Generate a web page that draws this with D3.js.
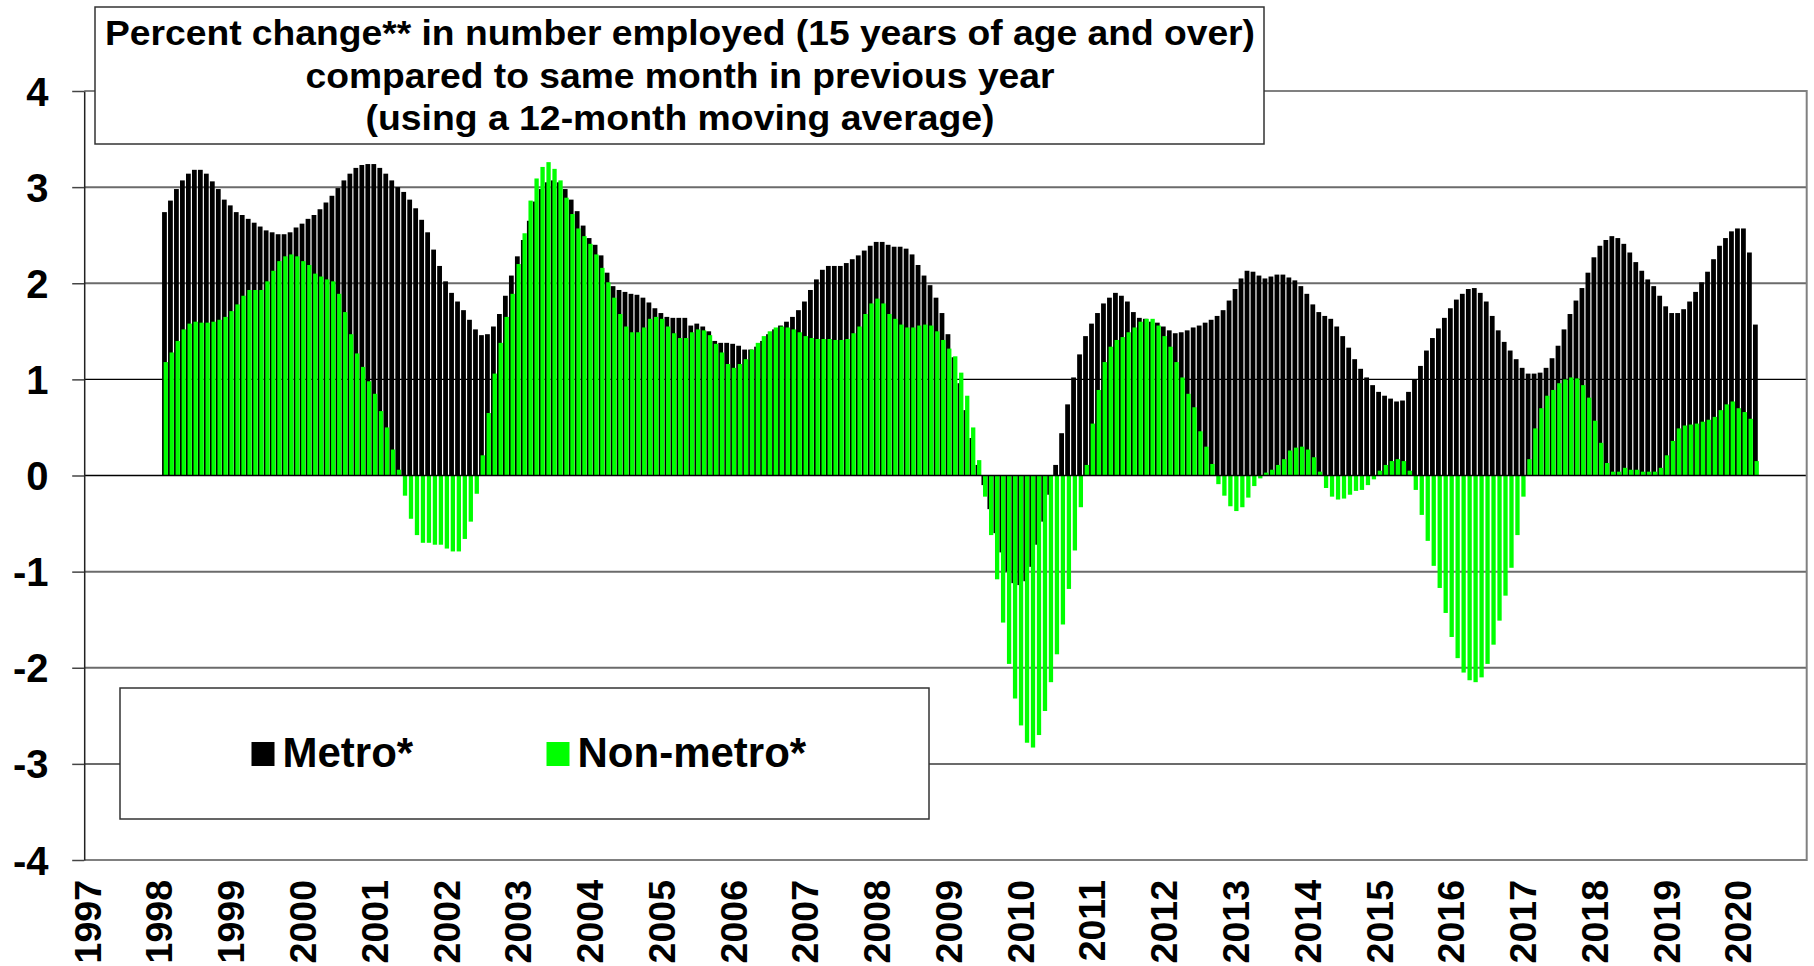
<!DOCTYPE html>
<html>
<head>
<meta charset="utf-8">
<title>Percent change in number employed</title>
<style>
  body, html { margin: 0; padding: 0; background: #fff; }
  #svg { display: block; font-family: "Liberation Sans", Arial, sans-serif; font-weight: bold; }
</style>
</head>
<body>
<svg id="svg" width="1814" height="966"></svg>
<script src="https://cdn.jsdelivr.net/npm/d3@7"></script>
<script>
// category axis: one slot per month, Jan 1997 .. Dec 2020
const years = d3.range(1997, 2021)
const firstMonth = "1998-2"   // series run Feb 1998 .. Apr 2020

// metro employment, % change (one row per year)
const metro = [
  2.74, 2.86, 2.98, 3.07, 3.14, 3.18, 3.18, 3.14, 3.06, 2.98, 2.87,
  2.81, 2.74, 2.71, 2.67, 2.63, 2.59, 2.55, 2.53, 2.51, 2.51, 2.53, 2.58,
  2.62, 2.67, 2.71, 2.77, 2.84, 2.91, 2.99, 3.07, 3.14, 3.20, 3.23, 3.24,
  3.24, 3.20, 3.14, 3.07, 3.00, 2.95, 2.87, 2.78, 2.66, 2.53, 2.35, 2.18,
  2.02, 1.90, 1.81, 1.72, 1.62, 1.52, 1.46, 1.47, 1.55, 1.68, 1.87, 2.08,
  2.28, 2.45, 2.65, 2.85, 2.98, 3.05, 3.07, 3.05, 2.98, 2.87, 2.75, 2.60,
  2.47, 2.40, 2.29, 2.11, 1.97, 1.93, 1.91, 1.89, 1.88, 1.85, 1.80, 1.74,
  1.69, 1.65, 1.64, 1.64, 1.64, 1.56, 1.58, 1.55, 1.50, 1.40, 1.38, 1.38,
  1.37, 1.35, 1.31, 1.31, 1.34, 1.40, 1.47, 1.52, 1.56, 1.60, 1.65, 1.72,
  1.81, 1.93, 2.04, 2.14, 2.18, 2.18, 2.18, 2.21, 2.25, 2.29, 2.34, 2.39,
  2.43, 2.43, 2.40, 2.38, 2.38, 2.36, 2.30, 2.19, 2.08, 1.98, 1.85, 1.69,
  1.47, 1.23, 0.96, 0.68, 0.39, 0.11, -0.10, -0.35, -0.60, -0.80, -1.00, -1.12,
  -1.14, -1.10, -0.95, -0.72, -0.48, -0.20, 0.11, 0.44, 0.74, 1.02, 1.26, 1.45,
  1.58, 1.69, 1.79, 1.85, 1.90, 1.87, 1.81, 1.70, 1.64, 1.63, 1.60, 1.59,
  1.55, 1.51, 1.48, 1.49, 1.51, 1.54, 1.56, 1.59, 1.62, 1.66, 1.72, 1.82,
  1.94, 2.05, 2.13, 2.12, 2.08, 2.05, 2.07, 2.09, 2.09, 2.06, 2.03, 1.97,
  1.89, 1.78, 1.70, 1.66, 1.63, 1.55, 1.45, 1.33, 1.21, 1.11, 1.02, 0.94,
  0.87, 0.83, 0.80, 0.77, 0.78, 0.87, 1.00, 1.14, 1.30, 1.43, 1.53, 1.64,
  1.74, 1.83, 1.89, 1.94, 1.95, 1.90, 1.81, 1.66, 1.51, 1.39, 1.30, 1.21,
  1.12, 1.06, 1.06, 1.07, 1.12, 1.22, 1.35, 1.52, 1.68, 1.82, 1.95, 2.11,
  2.27, 2.39, 2.45, 2.49, 2.47, 2.41, 2.32, 2.22, 2.13, 2.04, 1.97, 1.87,
  1.76, 1.69, 1.69, 1.73, 1.81, 1.91, 2.01, 2.12, 2.25, 2.39, 2.47, 2.54,
  2.57, 2.57, 2.32, 1.57
]

// non-metro employment, % change
const nonMetro = [
  1.18, 1.28, 1.40, 1.52, 1.58, 1.60, 1.59, 1.59, 1.60, 1.62, 1.65,
  1.71, 1.78, 1.87, 1.93, 1.93, 1.93, 2.02, 2.13, 2.23, 2.28, 2.30, 2.28,
  2.23, 2.19, 2.10, 2.07, 2.04, 2.02, 1.89, 1.70, 1.47, 1.27, 1.13, 0.98,
  0.85, 0.67, 0.50, 0.27, 0.06, -0.21, -0.45, -0.62, -0.70, -0.70, -0.72, -0.72,
  -0.76, -0.79, -0.79, -0.66, -0.48, -0.19, 0.21, 0.65, 1.06, 1.38, 1.65, 1.89,
  2.20, 2.52, 2.86, 3.09, 3.21, 3.26, 3.19, 3.07, 2.89, 2.72, 2.57, 2.49,
  2.41, 2.30, 2.16, 2.01, 1.85, 1.68, 1.55, 1.49, 1.49, 1.54, 1.63, 1.65,
  1.63, 1.55, 1.48, 1.43, 1.43, 1.49, 1.52, 1.51, 1.46, 1.37, 1.28, 1.16,
  1.12, 1.16, 1.21, 1.31, 1.38, 1.45, 1.50, 1.54, 1.55, 1.54, 1.52, 1.49,
  1.45, 1.43, 1.42, 1.42, 1.42, 1.41, 1.41, 1.42, 1.48, 1.55, 1.68, 1.79,
  1.84, 1.79, 1.68, 1.63, 1.57, 1.54, 1.54, 1.56, 1.57, 1.56, 1.50, 1.41,
  1.32, 1.24, 1.07, 0.83, 0.50, 0.16, -0.22, -0.62, -1.08, -1.53, -1.96, -2.32,
  -2.60, -2.78, -2.83, -2.70, -2.45, -2.15, -1.86, -1.55, -1.18, -0.78, -0.33, 0.11,
  0.54, 0.89, 1.18, 1.34, 1.41, 1.44, 1.49, 1.54, 1.60, 1.63, 1.63, 1.56,
  1.45, 1.34, 1.18, 1.02, 0.85, 0.71, 0.46, 0.30, 0.12, -0.09, -0.21, -0.32,
  -0.37, -0.33, -0.23, -0.11, -0.03, 0.03, 0.06, 0.11, 0.17, 0.26, 0.29, 0.30,
  0.27, 0.19, 0.04, -0.13, -0.22, -0.25, -0.24, -0.20, -0.16, -0.15, -0.10, -0.04,
  0.05, 0.11, 0.15, 0.17, 0.15, 0.05, -0.15, -0.41, -0.68, -0.94, -1.17, -1.43,
  -1.68, -1.90, -2.05, -2.13, -2.15, -2.10, -1.96, -1.76, -1.51, -1.25, -0.96, -0.62,
  -0.22, 0.17, 0.49, 0.70, 0.83, 0.89, 0.96, 1.00, 1.02, 1.01, 0.94, 0.81,
  0.57, 0.34, 0.13, 0.04, 0.04, 0.08, 0.06, 0.06, 0.04, 0.04, 0.04, 0.08,
  0.21, 0.36, 0.49, 0.52, 0.53, 0.54, 0.56, 0.58, 0.61, 0.68, 0.74, 0.77,
  0.70, 0.66, 0.59, 0.15
]

const yTicks = [-4, -3, -2, -1, 0, 1, 2, 3, 4]
const titleLines = [
  "Percent change** in number employed (15 years of age and over)",
  "compared to same month in previous year",
  "(using a 12-month moving average)"
]
const legendItems = [
  { label: "Metro*", color: "#000000" },
  { label: "Non-metro*", color: "#00ff00" }
]

function renderChart() {
  const svg = d3.select("#svg")
  const plot = { left: 84.2, right: 1806.7, top: 91, bottom: 860 }

  const monthKeys = years.flatMap(yr => d3.range(1, 13).map(m => `${yr}-${m}`))
  const start = monthKeys.indexOf(firstMonth)
  const rows = metro.map((v, i) => ({ month: monthKeys[start + i], metro: v, nonMetro: nonMetro[i] }))

  const x = d3.scaleBand()
    .domain(monthKeys)
    .range([plot.left, plot.right])
    .padding(0)
  const bw = x.bandwidth()

  const y = d3.scaleLinear()
    .domain([-4, 4])
    .range([plot.bottom, plot.top])

  // gridlines (1 is a thin black line in the original)
  svg.append("g")
    .selectAll("line")
    .data(yTicks.filter(t => t !== 4 && t !== -4 && t !== 0))
    .enter().append("line")
    .attr("x1", plot.left).attr("x2", plot.right)
    .attr("y1", d => y(d)).attr("y2", d => y(d))
    .attr("stroke", d => d === 1 ? "#000" : "#6b6b6b")
    .attr("stroke-width", d => d === 1 ? 1.2 : 2)

  // metro bars (behind)
  svg.append("g")
    .selectAll("rect")
    .data(rows)
    .enter().append("rect")
    .attr("x", d => x(d.month) + bw * 0.02)
    .attr("width", bw * 0.8)
    .attr("y", d => y(Math.max(0, d.metro)))
    .attr("height", d => Math.abs(y(d.metro) - y(0)))
    .attr("fill", "#000")

  // non-metro bars (front, shifted right a little)
  svg.append("g")
    .selectAll("rect")
    .data(rows)
    .enter().append("rect")
    .attr("x", d => x(d.month) + bw * 0.28)
    .attr("width", bw * 0.72)
    .attr("y", d => y(Math.max(0, d.nonMetro)))
    .attr("height", d => Math.abs(y(d.nonMetro) - y(0)))
    .attr("fill", "#00ff00")

  // zero line
  svg.append("line")
    .attr("x1", plot.left).attr("x2", plot.right)
    .attr("y1", y(0)).attr("y2", y(0))
    .attr("stroke", "#000").attr("stroke-width", 1.5)

  // plot border (top, right, bottom)
  svg.append("path")
    .attr("d", `M${plot.left},${y(4)}H${plot.right}V${y(-4)}H${plot.left}`)
    .attr("fill", "none")
    .attr("stroke", "#808080")
    .attr("stroke-width", 2)

  // y axis
  const yAxis = svg.append("g")
    .attr("transform", `translate(${plot.left},0)`)
    .call(d3.axisLeft(y)
      .tickValues(yTicks)
      .tickFormat(d => String(d))
      .tickSize(12).tickSizeOuter(0).tickPadding(23.7))
  yAxis.select(".domain").attr("stroke", "#222").attr("stroke-width", 1.5)
  yAxis.selectAll(".tick line").attr("stroke", "#444").attr("stroke-width", 1.5)
  yAxis.selectAll("text")
    .attr("dy", "0.35em")
    .style("font-size", "40px")
    .style("font-weight", "bold")
    .style("font-family", "'Liberation Sans', Arial, sans-serif")
    .attr("fill", "#000")

  // x axis: year labels, rotated
  const xAxis = svg.append("g")
    .attr("transform", "translate(0,880)")
    .call(d3.axisBottom(x)
      .tickValues(years.map(yr => `${yr}-1`))
      .tickFormat(d => d.split("-")[0])
      .tickSize(0))
  xAxis.select(".domain").remove()
  xAxis.selectAll("text")
    .attr("x", 0).attr("y", 0)
    .attr("dy", "0.36em")
    .attr("text-anchor", "end")
    .attr("transform", "rotate(-90)")
    .style("font-size", "37.5px")
    .style("font-weight", "bold")
    .style("font-family", "'Liberation Sans', Arial, sans-serif")
    .attr("fill", "#000")

  // title box
  svg.append("rect")
    .attr("x", 95).attr("y", 7)
    .attr("width", 1169).attr("height", 137)
    .attr("fill", "#fff")
    .attr("stroke", "#333").attr("stroke-width", 1.5)

  const titleLengths = [1150, 749, 629]
  const titleBaselines = [45, 88, 130]
  svg.append("g")
    .selectAll("text")
    .data(titleLines)
    .enter().append("text")
    .attr("x", 680)
    .attr("y", (d, i) => titleBaselines[i])
    .attr("text-anchor", "middle")
    .attr("textLength", (d, i) => titleLengths[i])
    .attr("lengthAdjust", "spacingAndGlyphs")
    .style("font-size", "35px")
    .text(d => d)

  // legend
  svg.append("rect")
    .attr("x", 120).attr("y", 688)
    .attr("width", 809).attr("height", 131)
    .attr("fill", "#fff")
    .attr("stroke", "#333").attr("stroke-width", 1.5)

  const legendX = [251.5, 546.5]
  const legend = svg.append("g")
  legend.selectAll("rect")
    .data(legendItems)
    .enter().append("rect")
    .attr("x", (d, i) => legendX[i])
    .attr("y", 742)
    .attr("width", 23).attr("height", 24)
    .attr("fill", d => d.color)
  legend.selectAll("text")
    .data(legendItems)
    .enter().append("text")
    .attr("x", (d, i) => legendX[i] + 31)
    .attr("y", 767)
    .style("font-size", "42px")
    .text(d => d.label)
}

renderChart()
</script>
</body>
</html>
